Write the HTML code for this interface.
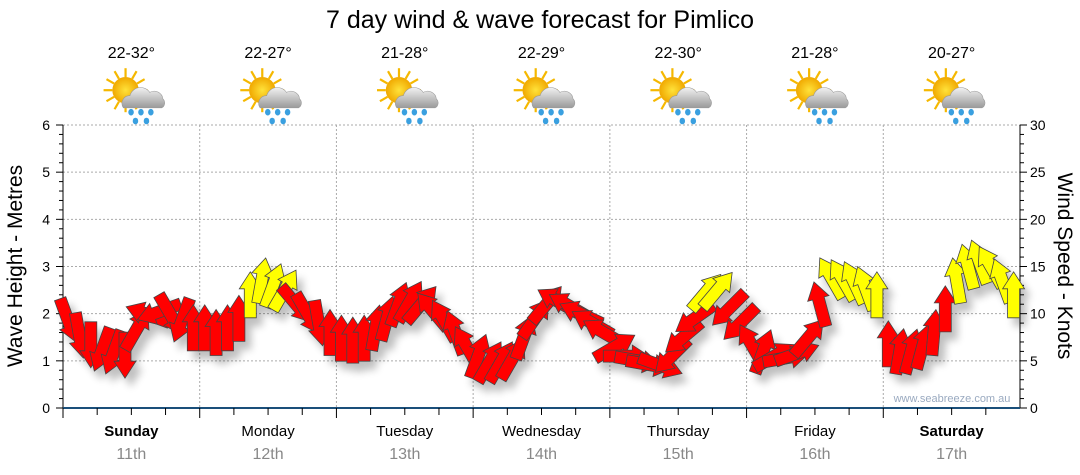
<!DOCTYPE html>
<html><head><meta charset="utf-8"><style>
body{margin:0;background:#fff;font-family:"Liberation Sans",sans-serif;}
svg{display:block}
</style></head><body>
<svg id="c" width="1080" height="475" viewBox="0 0 1080 475">
<defs>
<filter id="sh" x="-50%" y="-50%" width="200%" height="200%"><feGaussianBlur in="SourceAlpha" stdDeviation="4"/><feOffset dx="6" dy="8"/><feComponentTransfer><feFuncA type="linear" slope="0.25"/></feComponentTransfer><feMerge><feMergeNode/><feMergeNode in="SourceGraphic"/></feMerge></filter>
<radialGradient id="sun" cx="0.5" cy="0.5" r="0.5"><stop offset="0" stop-color="#ffe23a"/><stop offset="1" stop-color="#f0a800"/></radialGradient>
<linearGradient id="cloud" x1="0" y1="0" x2="0" y2="1"><stop offset="0" stop-color="#f2f2f2"/><stop offset="1" stop-color="#9a9a9a"/></linearGradient>
</defs>
<text x="540" y="28" text-anchor="middle" font-size="25" fill="#000">7 day wind &amp; wave forecast for Pimlico</text>
<g id="grid"></g><g id="axes"></g><g id="icons"></g><g id="arrows" filter="url(#sh)"></g>
<text x="952" y="402" text-anchor="middle" font-size="11" fill="#9aaac0">www.seabreeze.com.au</text>
<text transform="translate(22,266) rotate(-90)" text-anchor="middle" font-size="21" fill="#000">Wave Height - Metres</text>
<text transform="translate(1058,266) rotate(90)" text-anchor="middle" font-size="21" fill="#000">Wind Speed - Knots</text>
</svg>
<script>
const dayNames=["Sunday","Monday","Tuesday","Wednesday","Thursday","Friday","Saturday"];
const dayDates=["11th","12th","13th","14th","15th","16th","17th"];
const dayBold=[true,false,false,false,false,false,true];
const temps=["22-32°","22-27°","21-28°","22-29°","22-30°","21-28°","20-27°"];
const waveTicks=[0,1,2,3,4,5,6];
const windTicks=[0,5,10,15,20,25,30];
const hours=[0,2,4,6,8,10,12,14,16,18,20,22];
const windSpeed=[
9.3,7.7,6.7,6.2,5.9,5.6,8.3,9.9,10.2,9.9,9.3,8.5,
8.5,8.0,8.5,9.5,12.0,13.5,13.0,12.5,11.0,10.0,9.0,8.0,
7.4,7.2,7.4,8.5,9.5,11.0,11.3,11.0,10.3,9.3,8.0,6.5,
5.5,4.9,4.9,5.2,7.5,9.5,11.0,11.3,10.8,10.0,9.0,8.0,
6.5,5.5,5.0,4.6,4.5,5.5,7.5,9.5,12.3,12.5,10.5,9.0,
6.7,6.0,5.5,5.3,5.8,7.5,11.0,13.8,13.6,13.3,12.7,12.0,
6.8,6.0,6.0,6.5,8.0,10.5,13.5,15.0,15.5,15.0,13.5,12.0];
const windDir=[
160,170,180,200,200,180,30,290,250,150,200,0,
0,0,0,0,0,10,20,30,140,150,170,0,
0,0,0,10,15,20,30,40,320,330,340,330,
20,30,30,30,20,35,40,300,300,295,300,300,
60,90,100,100,110,225,230,235,40,40,225,225,
330,20,60,80,70,40,345,330,330,335,340,0,
0,10,15,15,5,0,350,345,340,330,340,0];
const NS="http://www.w3.org/2000/svg";
const X0=63,X1=1020,Y0=408,Y1=125,DW=(X1-X0)/7;
const xT=(d,h)=>X0+(d+h/24)*DW;
const yWave=v=>Y0-(v/6)*(Y0-Y1);
const yWind=v=>Y0-(v/30)*(Y0-Y1);
function mk(tag,attrs,parent){const e=document.createElementNS(NS,tag);for(const k in attrs)e.setAttribute(k,attrs[k]);parent.appendChild(e);return e;}
const grid=document.getElementById('grid'),axes=document.getElementById('axes'),icons=document.getElementById('icons'),arrows=document.getElementById('arrows');
waveTicks.forEach(v=>{if(v>0){const l=mk('line',{x1:X0,x2:X1,y1:yWave(v),y2:yWave(v),stroke:'#aaa','stroke-dasharray':'2,2'},grid);}});
for(let d=1;d<7;d++){const l=mk('line',{x1:xT(d,0),x2:xT(d,0),y1:Y1,y2:Y0,stroke:'#aaa','stroke-dasharray':'2,2'},grid);}
mk('line',{x1:X0,x2:X0,y1:Y1,y2:Y0,stroke:'#000'},axes);
mk('line',{x1:X1,x2:X1,y1:Y1,y2:Y0,stroke:'#000'},axes);
const bx=mk('line',{x1:X0,x2:X1,y1:Y0,y2:Y0,stroke:'#1a4f7a','stroke-width':2},axes);

for(let i=0;i<=30;i++){const y=Y0-i/30*(Y0-Y1);const big=i%5==0;
mk('line',{x1:X0-(big?7:4),x2:X0,y1:y,y2:y,stroke:'#000'},axes);
mk('line',{x1:X1,x2:X1+(big?7:4),y1:y,y2:y,stroke:'#000'},axes);}
waveTicks.forEach(v=>{const t=mk('text',{x:X0-13,y:yWave(v)+5,'text-anchor':'end','font-size':14},axes);t.textContent=v;});
windTicks.forEach(v=>{const t=mk('text',{x:X1+10,y:yWind(v)+5,'font-size':14},axes);t.textContent=v;});
for(let d=0;d<7;d++){for(let h=0;h<24;h+=6){const x=xT(d,h);mk('line',{x1:x,x2:x,y1:Y0,y2:Y0+(h==0?10:7),stroke:'#000'},axes);}
const cx=xT(d,12);
const n=mk('text',{x:cx,y:436,'text-anchor':'middle','font-size':15,'font-weight':dayBold[d]?'bold':'normal'},axes);n.textContent=dayNames[d];
const dt=mk('text',{x:cx,y:459,'text-anchor':'middle','font-size':16,fill:'#888'},axes);dt.textContent=dayDates[d];
const tp=mk('text',{x:cx,y:58,'text-anchor':'middle','font-size':16},icons);tp.textContent=temps[d];
const g=mk('g',{transform:`translate(${cx-30},66) scale(1.1)`},icons);
for(let r=0;r<12;r++){const a=r*Math.PI/6;mk('line',{x1:22+Math.cos(a)*12,y1:22+Math.sin(a)*12,x2:22+Math.cos(a)*20,y2:22+Math.sin(a)*20,stroke:'#f5b800','stroke-width':2},g);}
mk('circle',{cx:22,cy:22,r:12,fill:'url(#sun)'},g);
mk('path',{d:'M20 38 a7 7 0 0 1 6-11 a10 10 0 0 1 18-3 a8 8 0 0 1 12 6 a5 5 0 0 1 -1 8 z',fill:'url(#cloud)',stroke:'#999','stroke-width':0.5},g);
[[27,42],[36,42],[45,42],[31,50],[41,50]].forEach(p=>mk('ellipse',{cx:p[0],cy:p[1],rx:2.5,ry:3,fill:'#3aa0e0'},g));}
const ap='M0,-23 L11,-6 L6,-6 L6,23 L-6,23 L-6,-6 L-11,-6 Z';
windSpeed.forEach((v,i)=>{const d=Math.floor(i/12),h=hours[i%12];const x=xT(d,h)+5,y=yWind(v);
const p=mk('path',{d:ap,transform:`translate(${x.toFixed(1)},${y.toFixed(1)}) rotate(${windDir[i]})`,fill:v>=12?'#ffff00':'#ff0000',stroke:'#444','stroke-width':0.8},arrows);

});
</script>
</body></html>
